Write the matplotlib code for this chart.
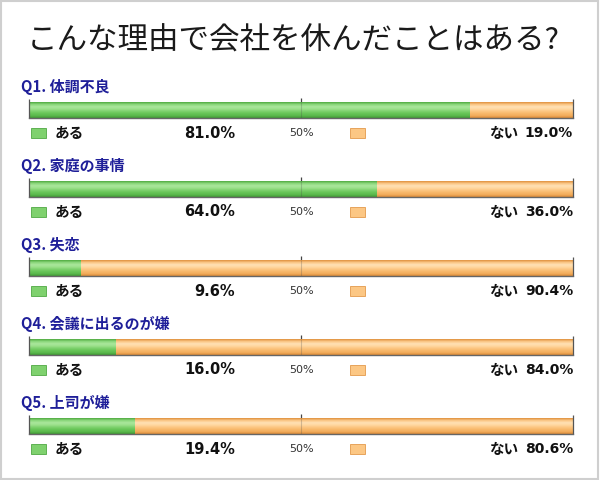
import matplotlib
matplotlib.use("Agg")
import matplotlib.pyplot as plt
from matplotlib.patches import Rectangle
from matplotlib.colors import to_rgb
import numpy as np

plt.rcParams['font.family'] = ['Noto Sans CJK JP', 'DejaVu Sans']

title = "こんな理由で会社を休んだことはある?"
questions = ["Q1. 体調不良", "Q2. 家庭の事情", "Q3. 失恋", "Q4. 会議に出るのが嫌", "Q5. 上司が嫌"]
yes_vals = [81.0, 64.0, 9.6, 16.0, 19.4]
no_vals = [19.0, 36.0, 90.4, 84.0, 80.6]
yes_label = "ある"
no_label = "ない"
mid_label = "50%"

W, H = 600, 480
fig = plt.figure(figsize=(W / 100, H / 100), dpi=100)
fig.patch.set_facecolor("white")

def fx(x):
    return x / W

def fy(y):
    return 1 - y / H

fig.patches.append(Rectangle((fx(1), fy(479)), fx(597), 478 / H, transform=fig.transFigure,
                             fill=False, edgecolor="#cfcfcf", linewidth=1.5))

fig.text(fx(27), fy(41), title, fontsize=22, color="#1a1a1a",
         ha="left", va="center")

# gradient stops from top to bottom of a bar
G_STOPS = ["#5ab24b", "#8fd97f", "#a9e69b", "#9be08b", "#7fd16e", "#68c558", "#5cba4d", "#45a038"]
O_STOPS = ["#e49a4a", "#fbc98a", "#ffe0b3", "#ffd7a0", "#fcc784", "#f8b96c", "#f2ad5d", "#e0913e"]

def blend(stops, n):
    rgb = np.array([to_rgb(c) for c in stops])
    t = np.linspace(0, 1, len(stops))
    tt = np.linspace(0, 1, n)
    return [tuple(np.interp(v, t, rgb[:, k]) for k in range(3)) for v in tt]

NB = 16
g_cols = blend(G_STOPS, NB)
o_cols = blend(O_STOPS, NB)
band_h = 1.0 / NB
band_c = [0.5 - band_h * (k + 0.5) for k in range(NB)]

x0, x1 = 29, 573
spacing = 79
for i, (q, yv, nv) in enumerate(zip(questions, yes_vals, no_vals)):
    ly = 87 + i * spacing
    bc = ly + 23
    gy = bc + 23
    fig.text(fx(21), fy(ly), q, fontsize=10.8, fontweight="bold", color="#1f1f99",
             ha="left", va="center")
    ax = fig.add_axes([fx(x0), fy(bc + 8), fx(x1 - x0), 16 / H])
    ax.set_xlim(0, 100)
    ax.set_ylim(-0.5, 0.5)
    for k in range(NB):
        ax.barh(band_c[k], yv, height=band_h * 1.05, left=0, color=g_cols[k], linewidth=0, zorder=2)
        ax.barh(band_c[k], nv, height=band_h * 1.05, left=yv, color=o_cols[k], linewidth=0, zorder=2)
    for s in ["top", "right", "left"]:
        ax.spines[s].set_visible(False)
    ax.spines["bottom"].set_color("#666666")
    ax.spines["bottom"].set_linewidth(1.0)
    ax.spines["bottom"].set_zorder(3)
    ax.vlines([0, 100], -0.5, 0.7, color="#555555", linewidth=0.9, clip_on=False, zorder=3)
    ax.vlines([50], -0.5, 0.75, color="#444444", linewidth=0.9, clip_on=False, zorder=1)
    ax.vlines([50], -0.5, 0.5, color="#444444", linewidth=0.8, alpha=0.25, zorder=3)
    ax.set_xticks([])
    ax.set_yticks([])
    ax.patch.set_alpha(0)

    fig.patches.append(Rectangle((fx(31), fy(gy + 5)), fx(15), 10 / H, transform=fig.transFigure,
                                 facecolor="#7fd16e", edgecolor="#4fa843", linewidth=0.6))
    fig.patches.append(Rectangle((fx(350), fy(gy + 5)), fx(15), 10 / H, transform=fig.transFigure,
                                 facecolor="#fcc784", edgecolor="#e39a4b", linewidth=0.6))
    fig.text(fx(55), fy(gy), yes_label, fontsize=10.5, fontweight="bold", color="#111111",
             ha="left", va="center")
    fig.text(fx(235), fy(gy), f"{yv:.1f}%", fontsize=10.5, fontweight="bold", color="#111111",
             ha="right", va="center", family=["DejaVu Sans"])
    fig.text(fx(301), fy(gy), mid_label, fontsize=8, color="#333333",
             ha="center", va="center", family=["DejaVu Sans"])
    fig.text(fx(518), fy(gy), no_label, fontsize=10.5, fontweight="bold", color="#111111",
             ha="right", va="center")
    fig.text(fx(573), fy(gy), f"{nv:.1f}%", fontsize=10, fontweight="bold", color="#111111",
             ha="right", va="center", family=["DejaVu Sans"])

fig.savefig("out.png", dpi=100, facecolor="white")
